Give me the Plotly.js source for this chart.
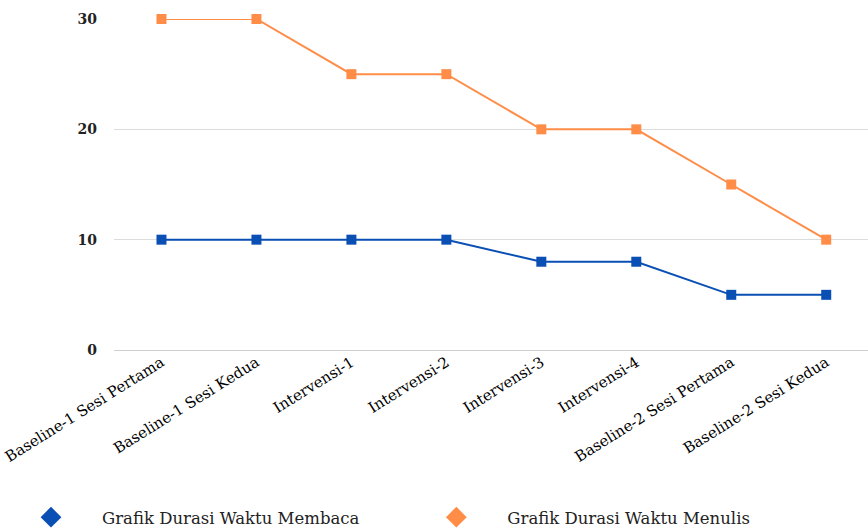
<!DOCTYPE html>
<html><head><meta charset="utf-8">
<script src="https://cdn.plot.ly/plotly-3.0.1.min.js"></script>
<style>html,body{margin:0;padding:0;background:#fff}#chart{width:868px;height:528px}</style>
</head><body><div id="chart"></div>
<script>
var categories = ["Baseline-1 Sesi Pertama","Baseline-1 Sesi Kedua","Intervensi-1","Intervensi-2","Intervensi-3","Intervensi-4","Baseline-2 Sesi Pertama","Baseline-2 Sesi Kedua"];
var membaca = [10,10,10,10,8,8,5,5];
var menulis = [30,30,25,25,20,20,15,10];
var seriesNames = ["Grafik Durasi Waktu Membaca","Grafik Durasi Waktu Menulis"];
var blue = "#0a4fb4", orange = "#ff8d48";
var fnt = "DejaVu Serif, Liberation Serif, serif";
var traces = [
 {x:categories,y:membaca,mode:"lines+markers",line:{color:blue,width:2},marker:{symbol:"square",size:10,color:blue},showlegend:false,cliponaxis:false},
 {x:categories,y:menulis,mode:"lines+markers",line:{color:orange,width:2},marker:{symbol:"square",size:10,color:orange},showlegend:false,cliponaxis:false},
 {x:[null],y:[null],mode:"markers",name:seriesNames[0],legend:"legend",marker:{symbol:"diamond",size:18,color:blue}},
 {x:[null],y:[null],mode:"markers",name:seriesNames[1],legend:"legend2",marker:{symbol:"diamond",size:18,color:orange}}
];
var legBase = {orientation:"h",xref:"container",y:0.02,yref:"container",yanchor:"middle",xanchor:"left",font:{size:16.5,family:fnt,color:"#222"},itemwidth:92};
var layout = {
 width:868,height:528,margin:{l:114,r:0,t:19,b:178},
 paper_bgcolor:"#fff",plot_bgcolor:"#fff",
 font:{family:fnt,color:"#222"},
 xaxis:{type:"category",range:[-0.5,7.44],tickangle:-32,tickfont:{size:15,family:fnt,color:"#000"},showgrid:false,zeroline:false,showline:false,ticks:""},
 yaxis:{range:[0,30],tickvals:[0,10,20,30],showgrid:true,gridcolor:"#dcdcdc",gridwidth:1,zeroline:true,zerolinecolor:"#cfcfcf",zerolinewidth:1,showline:false,ticks:"",ticklabelstandoff:16,tickfont:{size:14,family:fnt,color:"#222",weight:"bold"}},
 showlegend:true,
 legend:Object.assign({}, legBase, {x:-0.003}),
 legend2:Object.assign({}, legBase, {x:0.467})
};
Plotly.newPlot("chart",traces,layout,{displayModeBar:false,staticPlot:true});
</script></body></html>
